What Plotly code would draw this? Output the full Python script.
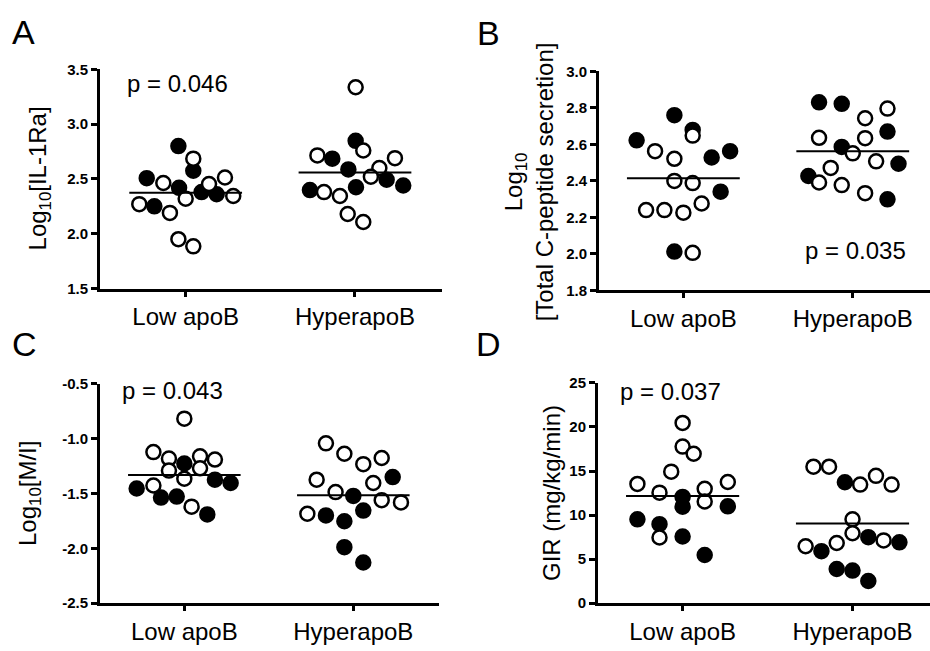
import plotly.graph_objects as go

W, H = 930, 651
FONT = "Liberation Sans"

categories = ["Low apoB", "HyperapoB"]

# ---------------- Panel A: Log10[IL-1Ra] ----------------
A_low_filled = [2.80, 2.507, 2.575, 2.419, 2.25, 2.38, 2.36]
A_low_filled_jit = [-0.043, -0.230, 0.045, -0.039, -0.185, 0.094, 0.183]
A_low_open = [2.685, 2.463, 2.454, 2.513, 2.27, 2.19, 2.32, 2.344, 1.95, 1.885]
A_low_open_jit = [0.045, -0.132, 0.138, 0.232, -0.274, -0.093, 0.0, 0.281, -0.043, 0.045]
A_hyp_filled = [2.848, 2.685, 2.587, 2.398, 2.424, 2.493, 2.44]
A_hyp_filled_jit = [0.004, -0.134, -0.039, -0.266, 0.006, 0.187, 0.285]
A_hyp_open = [3.337, 2.715, 2.76, 2.69, 2.60, 2.52, 2.38, 2.344, 2.18, 2.107]
A_hyp_open_jit = [0.004, -0.222, 0.049, 0.236, 0.144, 0.094, -0.183, -0.089, -0.043, 0.049]
A_means = [2.374, 2.558]
A_ticks = [1.5, 2.0, 2.5, 3.0, 3.5]
A_ticktext = ["1.5", "2.0", "2.5", "3.0", "3.5"]

# ---------------- Panel B: Log10 total C-peptide ----------------
B_low_filled = [2.76, 2.622, 2.679, 2.528, 2.563, 2.341, 2.013]
B_low_filled_jit = [-0.053, -0.276, 0.055, 0.167, 0.276, 0.22, -0.053]
B_low_open = [2.648, 2.563, 2.521, 2.40, 2.388, 2.24, 2.24, 2.226, 2.276, 2.006]
B_low_open_jit = [0.055, -0.167, -0.053, -0.053, 0.055, -0.22, -0.112, 0.0, 0.108, 0.055]
B_hyp_filled = [2.83, 2.822, 2.67, 2.586, 2.494, 2.427, 2.299]
B_hyp_filled_jit = [-0.199, -0.065, 0.205, -0.065, 0.27, -0.262, 0.205]
B_hyp_open = [2.796, 2.743, 2.636, 2.634, 2.551, 2.507, 2.471, 2.391, 2.377, 2.333]
B_hyp_open_jit = [0.205, 0.073, -0.199, 0.073, 0.0, 0.138, -0.13, -0.199, -0.065, 0.073]
B_means = [2.414, 2.563]
B_ticks = [1.8, 2.0, 2.2, 2.4, 2.6, 2.8, 3.0]
B_ticktext = ["1.8", "2.0", "2.2", "2.4", "2.6", "2.8", "3.0"]

# ---------------- Panel C: Log10[M/I] ----------------
C_low_filled = [-1.226, -1.454, -1.537, -1.528, -1.374, -1.404, -1.691]
C_low_filled_jit = [0.0, -0.282, -0.138, -0.045, 0.181, 0.274, 0.136]
C_low_open = [-0.817, -1.122, -1.181, -1.161, -1.19, -1.291, -1.27, -1.365, -1.427, -1.62]
C_low_open_jit = [0.0, -0.183, -0.091, 0.093, 0.181, -0.091, 0.093, 0.0, -0.183, 0.043]
C_hyp_filled = [-1.35, -1.522, -1.656, -1.70, -1.753, -1.99, -2.13]
C_hyp_filled_jit = [0.233, 0.0, 0.059, -0.162, -0.053, -0.053, 0.059]
C_hyp_open = [-1.042, -1.137, -1.232, -1.176, -1.374, -1.487, -1.404, -1.561, -1.581, -1.685]
C_hyp_open_jit = [-0.162, -0.053, 0.059, 0.168, -0.217, -0.105, 0.118, 0.168, 0.282, -0.272]
C_means = [-1.33, -1.516]
C_ticks = [-2.5, -2.0, -1.5, -1.0, -0.5]
C_ticktext = ["-2.5", "-2.0", "-1.5", "-1.0", "-0.5"]

# ---------------- Panel D: GIR ----------------
D_low_filled = [12.06, 10.95, 10.99, 9.51, 8.96, 7.56, 5.46]
D_low_filled_jit = [0.0, 0.0, 0.266, -0.266, -0.136, 0.0, 0.13]
D_low_open = [20.46, 17.77, 16.96, 14.93, 13.53, 13.75, 12.54, 12.98, 11.54, 7.45]
D_low_open_jit = [0.0, 0.0, 0.065, -0.067, -0.266, 0.266, -0.136, 0.13, 0.13, -0.136]
D_hyp_filled = [13.72, 7.49, 6.9, 5.9, 3.87, 3.69, 2.51]
D_hyp_filled_jit = [-0.045, 0.093, 0.276, -0.183, -0.093, 0.0, 0.093]
D_hyp_open = [15.49, 15.49, 14.45, 13.46, 13.46, 9.51, 7.93, 6.82, 6.45, 7.12]
D_hyp_open_jit = [-0.23, -0.138, 0.138, 0.045, 0.23, 0.0, 0.0, -0.093, -0.276, 0.183]
D_means = [12.17, 9.03]
D_ticks = [0, 5, 10, 15, 20, 25]
D_ticktext = ["0", "5", "10", "15", "20", "25"]

panels = [
    dict(letter="A", pvalue="p = 0.046",
         low_f=A_low_filled, low_fj=A_low_filled_jit, low_o=A_low_open, low_oj=A_low_open_jit,
         hyp_f=A_hyp_filled, hyp_fj=A_hyp_filled_jit, hyp_o=A_hyp_open, hyp_oj=A_hyp_open_jit,
         means=A_means, ticks=A_ticks, ticktext=A_ticktext, yrange=[1.5, 3.5],
         box=(100, 442, 62, 287), xrange=[-0.506, 1.514],
         title="Log<sub>10</sub>[IL-1Ra]", title_xy=(39, 174),
         p_xy=(177, 77), letter_xy=(23, 24)),
    dict(letter="B", pvalue="p = 0.035",
         low_f=B_low_filled, low_fj=B_low_filled_jit, low_o=B_low_open, low_oj=B_low_open_jit,
         hyp_f=B_hyp_filled, hyp_fj=B_hyp_filled_jit, hyp_o=B_hyp_open, hyp_oj=B_hyp_open_jit,
         means=B_means, ticks=B_ticks, ticktext=B_ticktext, yrange=[1.8, 3.0],
         box=(599, 930, 64, 289), xrange=[-0.498, 1.456],
         title="Log<sub>10</sub><br>[Total C-peptide secretion]", title_xy=(529, 178),
         p_xy=(855, 248), letter_xy=(489, 25)),
    dict(letter="C", pvalue="p = 0.043",
         low_f=C_low_filled, low_fj=C_low_filled_jit, low_o=C_low_open, low_oj=C_low_open_jit,
         hyp_f=C_hyp_filled, hyp_fj=C_hyp_filled_jit, hyp_o=C_hyp_open, hyp_oj=C_hyp_open_jit,
         means=C_means, ticks=C_ticks, ticktext=C_ticktext, yrange=[-2.5, -0.5],
         box=(100, 439, 385, 610), xrange=[-0.499, 1.507],
         title="Log<sub>10</sub>[M/I]", title_xy=(30, 498),
         p_xy=(172, 392), letter_xy=(24, 344)),
    dict(letter="D", pvalue="p = 0.037",
         low_f=D_low_filled, low_fj=D_low_filled_jit, low_o=D_low_open, low_oj=D_low_open_jit,
         hyp_f=D_hyp_filled, hyp_fj=D_hyp_filled_jit, hyp_o=D_hyp_open, hyp_oj=D_hyp_open_jit,
         means=D_means, ticks=D_ticks, ticktext=D_ticktext, yrange=[0, 25],
         box=(598, 930, 384, 610), xrange=[-0.498, 1.456],
         title="GIR (mg/kg/min)", title_xy=(551, 497),
         p_xy=(670, 393), letter_xy=(489, 344)),
]

fig = go.Figure()
annotations = []
MSIZE = 14
HALF = 0.333

for i, p in enumerate(panels, start=1):
    xa = "x" if i == 1 else f"x{i}"
    ya = "y" if i == 1 else f"y{i}"

    def add_pts(yvals, jit, cat, filled):
        fig.add_trace(go.Scatter(
            x=[cat + j for j in jit], y=yvals, mode="markers",
            xaxis=xa, yaxis=ya, showlegend=False, hoverinfo="skip",
            marker=dict(size=MSIZE, color="black" if filled else "white",
                        line=dict(color="black", width=2.5)),
            cliponaxis=False))

    add_pts(p["low_f"], p["low_fj"], 0, True)
    add_pts(p["hyp_f"], p["hyp_fj"], 1, True)
    add_pts(p["low_o"], p["low_oj"], 0, False)
    add_pts(p["hyp_o"], p["hyp_oj"], 1, False)
    for cat, m in enumerate(p["means"]):
        fig.add_trace(go.Scatter(
            x=[cat - HALF, cat + HALF], y=[m, m], mode="lines",
            xaxis=xa, yaxis=ya, showlegend=False, hoverinfo="skip",
            line=dict(color="black", width=2)))

    x0, x1, y0, y1 = p["box"]
    xd = [x0 / W, x1 / W]
    yd = [1 - y1 / H, 1 - y0 / H]
    xkey = "xaxis" if i == 1 else f"xaxis{i}"
    ykey = "yaxis" if i == 1 else f"yaxis{i}"
    fig.layout[xkey] = dict(
        domain=xd, range=p["xrange"], anchor=ya,
        tickmode="array", tickvals=[0, 1], ticktext=categories,
        showline=True, linecolor="black", linewidth=3,
        ticks="outside", ticklen=5, tickwidth=3, tickcolor="black",
        showgrid=False, zeroline=False,
        tickfont=dict(family=FONT, size=24, color="black"))
    fig.layout[ykey] = dict(
        domain=yd, range=p["yrange"], anchor=xa,
        tickmode="array", tickvals=p["ticks"], ticktext=p["ticktext"],
        showline=True, linecolor="black", linewidth=3,
        ticks="outside", ticklen=6, tickwidth=3, tickcolor="black",
        showgrid=False, zeroline=False,
        tickfont=dict(family=FONT, size=15, color="black", weight="bold"))

    tx, ty = p["title_xy"]
    annotations.append(dict(
        text=p["title"], x=tx / W, y=1 - ty / H, xref="paper", yref="paper",
        xanchor="center", yanchor="middle", textangle=-90, showarrow=False,
        font=dict(family=FONT, size=24, color="black")))
    px_, py_ = p["p_xy"]
    annotations.append(dict(
        text=p["pvalue"], x=px_ / W, y=1 - py_ / H, xref="paper", yref="paper",
        xanchor="center", yanchor="middle", showarrow=False,
        font=dict(family=FONT, size=24, color="black")))
    lx, ly = p["letter_xy"]
    annotations.append(dict(
        text=p["letter"], x=lx / W, y=1 - ly / H, xref="paper", yref="paper",
        xanchor="center", yanchor="middle", showarrow=False,
        font=dict(family=FONT, size=34, color="black")))

fig.update_layout(
    width=W, height=H, margin=dict(l=0, r=0, t=0, b=0),
    paper_bgcolor="white", plot_bgcolor="white",
    annotations=annotations,
    font=dict(family=FONT, color="black"),
)

fig.write_html("out.html")
